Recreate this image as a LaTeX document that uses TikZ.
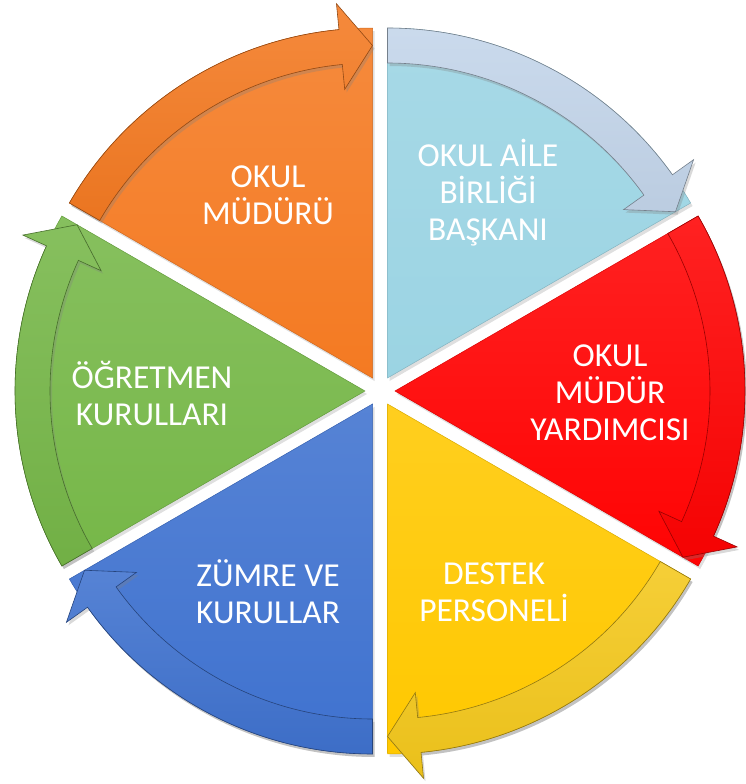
\documentclass[tikz,border=0pt]{standalone}
\usepackage{fontspec}
\setmainfont{Carlito}
\usetikzlibrary{shadows}
\definecolor{okorange}{HTML}{F47A22}
\definecolor{okcyan}{HTML}{9BD4E3}
\definecolor{okpale}{HTML}{C3D5EA}
\definecolor{okred}{HTML}{FF0303}
\definecolor{okyellow}{HTML}{FFC800}
\definecolor{okgold}{HTML}{F4C81C}
\definecolor{okblue}{HTML}{3F72CF}
\definecolor{okgreen}{HTML}{76B748}
\tikzset{%
slice/.style={draw=#1!85!black,line width=0.5pt,top color=#1!88!white,bottom color=#1,
              drop shadow={opacity=0.25,shadow xshift=2pt,shadow yshift=-3pt}},
band/.style={draw=#1!60!black,line width=0.6pt,top color=#1!88!white,bottom color=#1!96!black,
             drop shadow={opacity=0.3,shadow xshift=2pt,shadow yshift=-3pt}},
title/.style={text=white,font=\fontsize{33.5}{37}\selectfont,align=center}
}
\begin{document}
\begin{tikzpicture}[x=1pt,y=1pt]
\useasboundingbox (-380,-393) rectangle (366,391);
% wedges
\foreach \b/\wc in {120/okorange,60/okcyan,0/okred,-60/okyellow,-120/okblue,180/okgreen}
{
  \begin{scope}[shift={(\b:15)}]
    \path[slice=\wc] (0,0) -- (\b+30:350)
      arc[start angle=\b+30,end angle=\b-30,radius=350] -- cycle;
  \end{scope}
}
% curved arrows on the rim
\foreach \b/\ac in {120/okorange,60/okpale,0/okred,-60/okgold,-120/okblue,180/okgreen}
{
  \begin{scope}[shift={(\b:15)}]
    \path[band=\ac] (\b+30:350)
      arc[start angle=\b+30,end angle=\b-24.5,radius=350]
      -- (\b-24.5:376) -- (\b-30:332.5) -- (\b-24.5:290) -- (\b-24.5:315)
      arc[start angle=\b-24.5,end angle=\b+30,radius=315] -- cycle;
  \end{scope}
}
\node[title] (mudur)    at (-112,196)  {OKUL\\MÜDÜRÜ};
\node[title] (aile)     at (108,198)   {OKUL AİLE\\BİRLİĞİ\\BAŞKANI};
\node[title] (yardimci) at (230,-2)    {OKUL\\MÜDÜR\\YARDIMCISI};
\node[title] (destek)   at (114,-201)  {DESTEK\\PERSONELİ};
\node[title] (zumre)    at (-112,-201) {ZÜMRE VE\\KURULLAR};
\node[title] (ogretmen) at (-228,-2)   {ÖĞRETMEN\\KURULLARI};
\end{tikzpicture}
\end{document}
